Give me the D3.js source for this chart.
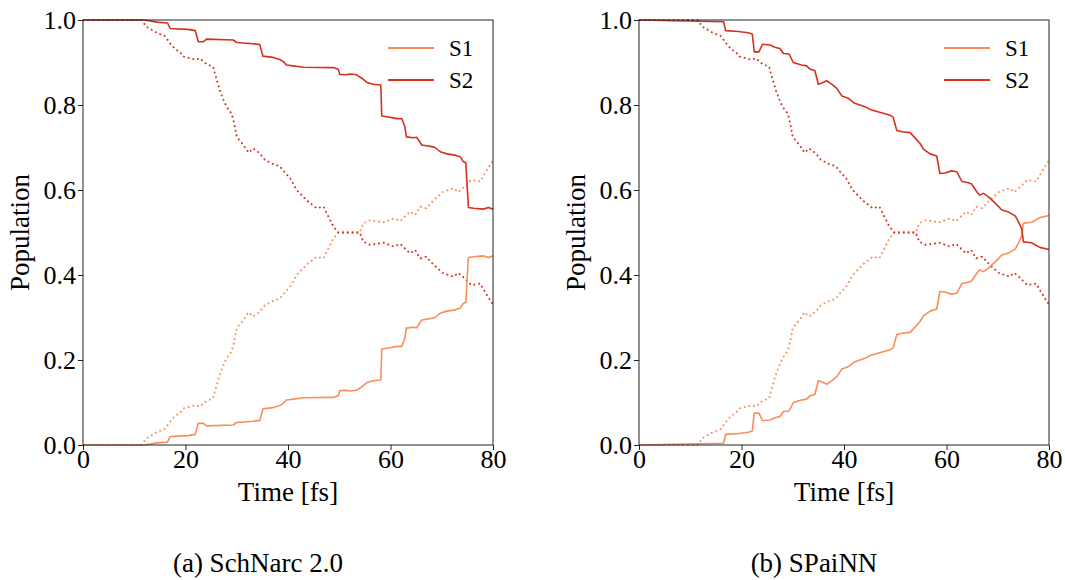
<!DOCTYPE html>
<html>
<head>
<meta charset="utf-8">
<script src="https://cdn.jsdelivr.net/npm/d3@7"></script>
<style>
  body { margin: 0; background: white; }
  svg text { font-family: "Liberation Serif", "Times New Roman", Times, serif; fill: black; }
</style>
</head>
<body>
<script>
// reference (dotted) populations, shared by both panels
const refTime = [0, 11.4, 12.4, 14.4, 16, 17, 18, 18.9, 19.6, 21.9, 22.8, 24.1, 25.4, 25.8, 26.7, 27.4, 28, 29, 29.5, 30, 31.3, 32.3, 33.2, 34.5, 35.5, 37.1, 38.4, 39.1, 40.4, 41.7, 43.6, 45.6, 46.9, 47.9, 48.8, 49.8, 54, 54.7, 56, 58.6, 60.6, 61.9, 63.8, 64.8, 65.8, 67, 68.4, 70.3, 72.3, 73.2, 74.2, 75.8, 77.5, 78.4, 80]
const refS2 = [1, 1, 0.984, 0.970, 0.962, 0.945, 0.931, 0.925, 0.914, 0.907, 0.910, 0.896, 0.890, 0.871, 0.835, 0.812, 0.796, 0.780, 0.757, 0.725, 0.706, 0.688, 0.698, 0.686, 0.671, 0.661, 0.656, 0.645, 0.628, 0.600, 0.576, 0.557, 0.561, 0.537, 0.515, 0.500, 0.500, 0.478, 0.471, 0.476, 0.467, 0.473, 0.451, 0.459, 0.439, 0.443, 0.424, 0.404, 0.396, 0.405, 0.395, 0.376, 0.380, 0.361, 0.330]
const refS1 = [0, 0, 0.016, 0.030, 0.038, 0.055, 0.069, 0.075, 0.086, 0.093, 0.090, 0.104, 0.110, 0.129, 0.165, 0.188, 0.204, 0.220, 0.243, 0.275, 0.294, 0.312, 0.302, 0.314, 0.329, 0.339, 0.344, 0.355, 0.372, 0.400, 0.424, 0.443, 0.439, 0.463, 0.485, 0.500, 0.500, 0.522, 0.529, 0.524, 0.533, 0.527, 0.549, 0.541, 0.561, 0.557, 0.576, 0.596, 0.604, 0.595, 0.605, 0.624, 0.620, 0.639, 0.670]

// (a) SchNarc 2.0
const schTime = [0, 12, 14.4, 16.5, 17, 20.5, 21.9, 22.5, 23.5, 24.1, 29.3, 30, 33.2, 34.5, 35.1, 37.1, 38.4, 39.1, 39.7, 41, 43, 48.8, 49.8, 50.1, 51.4, 52.1, 53.4, 54.4, 55.4, 56.6, 58.1, 58.3, 59.9, 61.2, 62.2, 62.8, 63.1, 64.4, 65.1, 66.1, 67, 68, 68.7, 69.7, 71, 72.6, 73.6, 74.2, 74.7, 75.2, 76.2, 78.1, 79.1, 80]
const schS2 = [1, 1, 0.995, 0.993, 0.980, 0.978, 0.975, 0.949, 0.949, 0.955, 0.953, 0.947, 0.944, 0.942, 0.915, 0.912, 0.907, 0.902, 0.894, 0.892, 0.889, 0.888, 0.884, 0.872, 0.871, 0.873, 0.871, 0.863, 0.853, 0.849, 0.847, 0.774, 0.771, 0.768, 0.768, 0.749, 0.725, 0.723, 0.724, 0.706, 0.704, 0.702, 0.700, 0.690, 0.685, 0.682, 0.678, 0.667, 0.664, 0.559, 0.557, 0.555, 0.559, 0.555]
const schS1 = [0, 0, 0.005, 0.007, 0.020, 0.022, 0.025, 0.051, 0.051, 0.045, 0.047, 0.053, 0.056, 0.058, 0.085, 0.088, 0.093, 0.098, 0.106, 0.108, 0.111, 0.112, 0.116, 0.128, 0.129, 0.127, 0.129, 0.137, 0.147, 0.151, 0.153, 0.226, 0.229, 0.232, 0.232, 0.251, 0.275, 0.277, 0.276, 0.294, 0.296, 0.298, 0.300, 0.310, 0.315, 0.318, 0.322, 0.333, 0.336, 0.441, 0.443, 0.445, 0.441, 0.445]

// (b) SPaiNN
const spaTime = [0, 16.5, 16.9, 19.4, 21.3, 22.1, 22.5, 23.4, 24.1, 25.6, 26.5, 27.5, 28.2, 29.3, 30.1, 31.7, 32.7, 33.4, 34.3, 35, 35.6, 36.6, 37.6, 38.6, 39.6, 40.8, 42.1, 44.1, 45.4, 47.3, 49, 49.6, 50.3, 51.3, 52.9, 53.9, 54.8, 55.5, 56.8, 58.1, 58.7, 59.7, 61, 62, 63, 64.3, 64.9, 65.9, 66.5, 67.2, 68.2, 69.5, 70.8, 72.1, 73.4, 74, 74.7, 75, 76.6, 78.2, 80]
const spaS2 = [1, 0.996, 0.975, 0.973, 0.970, 0.967, 0.925, 0.925, 0.943, 0.941, 0.936, 0.933, 0.921, 0.920, 0.900, 0.894, 0.892, 0.884, 0.881, 0.849, 0.851, 0.857, 0.849, 0.839, 0.821, 0.816, 0.804, 0.796, 0.788, 0.782, 0.776, 0.771, 0.740, 0.737, 0.735, 0.722, 0.710, 0.696, 0.685, 0.680, 0.639, 0.640, 0.645, 0.643, 0.620, 0.617, 0.614, 0.596, 0.588, 0.592, 0.584, 0.569, 0.553, 0.548, 0.539, 0.526, 0.508, 0.478, 0.476, 0.465, 0.460]
const spaS1 = [0, 0.004, 0.025, 0.027, 0.030, 0.033, 0.075, 0.075, 0.057, 0.059, 0.064, 0.067, 0.079, 0.080, 0.100, 0.106, 0.108, 0.116, 0.119, 0.151, 0.149, 0.143, 0.151, 0.161, 0.179, 0.184, 0.196, 0.204, 0.212, 0.218, 0.224, 0.229, 0.260, 0.263, 0.265, 0.278, 0.290, 0.304, 0.315, 0.320, 0.361, 0.360, 0.355, 0.357, 0.380, 0.383, 0.386, 0.404, 0.412, 0.408, 0.416, 0.431, 0.447, 0.452, 0.461, 0.474, 0.492, 0.522, 0.524, 0.535, 0.540]

const xTicks = [0, 20, 40, 60, 80]
const yTicks = [0, 0.2, 0.4, 0.6, 0.8, 1.0]
const states = ['S1', 'S2']
const colors = ['#fc8d59', '#d7301f']
const captions = ['(a) SchNarc 2.0', '(b) SPaiNN']

const serif = '"Liberation Serif", "Times New Roman", Times, serif'

const svg = d3.select('body').append('svg')
    .attr('width', 1065)
    .attr('height', 580)

const panels = [
    {left: 83, time: schTime, s1: schS1, s2: schS2, caption: captions[0]},
    {left: 639, time: spaTime, s1: spaS1, s2: spaS2, caption: captions[1]},
]

panels.forEach(p => {
    const x = d3.scaleLinear().domain([0, 80]).range([p.left, p.left + 410])
    const y = d3.scaleLinear().domain([0, 1]).range([445, 20])
    const g = svg.append('g').attr('font-family', serif)

    const line = (ts, vs) => d3.line()
        .x((d, i) => x(ts[i]))
        .y(d => y(d))(vs)

    // dotted reference curves
    ;[refS1, refS2].forEach((vs, k) => {
        g.append('path')
            .attr('d', line(refTime, vs))
            .style('fill', 'none')
            .style('stroke', colors[k])
            .style('stroke-width', 1.8)
            .style('stroke-dasharray', '1.8,3')
    })

    // solid model curves
    ;[p.s1, p.s2].forEach((vs, k) => {
        g.append('path')
            .attr('d', line(p.time, vs))
            .style('fill', 'none')
            .style('stroke', colors[k])
            .style('stroke-width', 1.6)
            .style('stroke-linejoin', 'round')
    })

    // frame
    g.append('rect')
        .attr('x', x(0)).attr('y', y(1))
        .attr('width', x(80) - x(0)).attr('height', y(0) - y(1))
        .style('fill', 'none')
        .style('stroke', '#222')
        .style('stroke-width', 1)

    const xAxis = g.append('g')
        .attr('transform', `translate(0, ${y(0)})`)
        .call(d3.axisBottom(x).tickValues(xTicks).tickFormat(d3.format('d')).tickSize(5).tickPadding(0))
    const yAxis = g.append('g')
        .attr('transform', `translate(${x(0)}, 0)`)
        .call(d3.axisLeft(y).tickValues(yTicks).tickFormat(d3.format('.1f')).tickSize(5).tickPadding(2))
    ;[xAxis, yAxis].forEach(a => {
        a.attr('font-family', serif).attr('font-size', 26)
        a.select('.domain').remove()
        a.selectAll('text').style('font-family', serif).style('font-size', '26px').attr('fill', 'black')
        a.selectAll('line').attr('stroke', '#222')
    })

    g.append('text')
        .attr('x', x(40)).attr('y', 501)
        .attr('text-anchor', 'middle')
        .style('font-family', serif)
        .style('font-size', '27px')
        .text('Time [fs]')

    g.append('text')
        .attr('transform', `translate(${p.left - 54}, ${y(0.5)}) rotate(-90)`)
        .attr('text-anchor', 'middle')
        .style('font-family', serif)
        .style('font-size', '27px')
        .text('Population')

    // legend
    states.forEach((s, k) => {
        const ly = 48 + k * 32
        g.append('line')
            .attr('x1', p.left + 305).attr('x2', p.left + 351)
            .attr('y1', ly).attr('y2', ly)
            .style('stroke', colors[k])
            .style('stroke-width', 1.8)
        g.append('text')
            .attr('x', p.left + 366).attr('y', ly + 8)
            .style('font-family', serif)
            .style('font-size', '23px')
            .text(s)
    })

    g.append('text')
        .attr('x', x(40) - 30).attr('y', 572)
        .attr('text-anchor', 'middle')
        .style('font-family', serif)
        .style('font-size', '27px')
        .text(p.caption)
})
</script>
</body>
</html>
